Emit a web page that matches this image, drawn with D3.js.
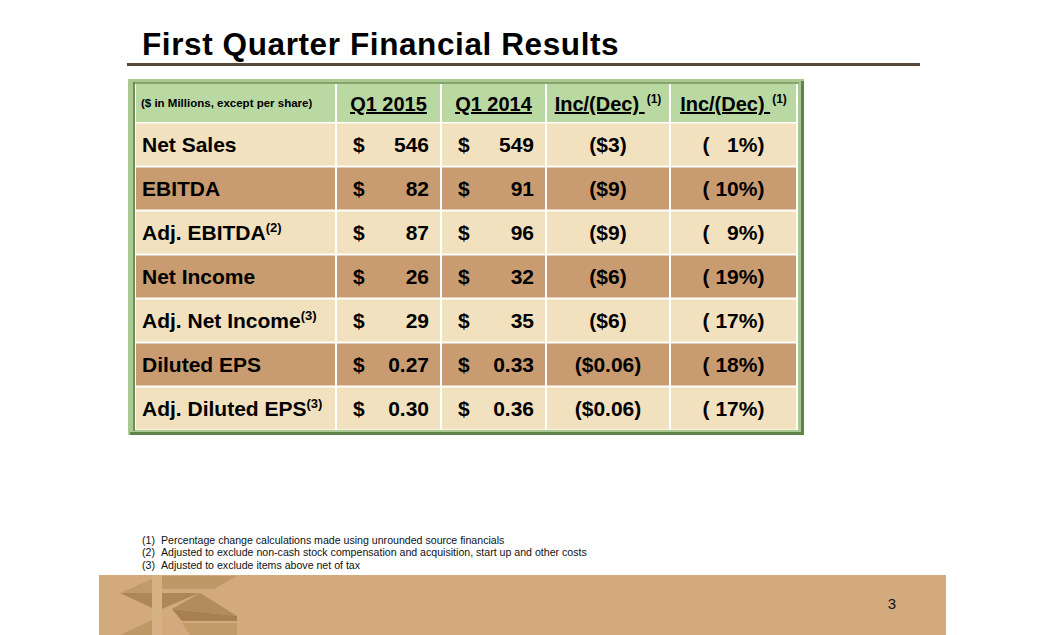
<!DOCTYPE html>
<html>
<head>
<meta charset="utf-8">
<script src="https://cdn.jsdelivr.net/npm/d3@7"></script>
<style>
  html, body { margin: 0; padding: 0; background: #ffffff; }
  svg { display: block; font-family: "Liberation Sans", Arial, sans-serif; }
  .pre { white-space: pre; }
</style>
</head>
<body>
<svg id="chart" width="1046" height="635"></svg>
<script>
// ---------- data ----------
const title = "First Quarter Financial Results";
const unitNote = "($ in Millions, except per share)";
const headers = ["Q1 2015", "Q1 2014", "Inc/(Dec) ", "Inc/(Dec) "];
const headerSups = ["", "", "(1)", "(1)"];
const labels = ["Net Sales", "EBITDA", "Adj. EBITDA", "Net Income", "Adj. Net Income", "Diluted EPS", "Adj. Diluted EPS"];
const labelSups = ["", "", "(2)", "", "(3)", "", "(3)"];
const q2015 = [546, 82, 87, 26, 29, 0.27, 0.30];
const q2014 = [549, 91, 96, 32, 35, 0.33, 0.36];
const incDec = ["($3)", "($9)", "($9)", "($6)", "($6)", "($0.06)", "($0.06)"];
const incDecPct = ["(   1%)", "( 10%)", "(   9%)", "( 19%)", "( 17%)", "( 18%)", "( 17%)"];
const footnotes = [
  ["(1)", "Percentage change calculations made using unrounded source financials"],
  ["(2)", "Adjusted to exclude non-cash stock compensation and acquisition, start up and other costs"],
  ["(3)", "Adjusted to exclude items above net of tax"]
];
const pageNumber = "3";

// ---------- layout ----------
const svg = d3.select("#chart");
const colEdges = [136, 336, 441, 546, 670, 797];
const colors = {
  header: "#bad8a2", light: "#f1e1bf", dark: "#c89c70",
  frame: "#a9c991", frameDark: "#62824c", rule: "#574a3c", band: "#d2aa7d"
};

// title
svg.append("text").attr("x", 142).attr("y", 55)
  .attr("font-size", 31.5).attr("font-weight", "bold").attr("fill", "#000")
  .attr("letter-spacing", 0.6)
  .text(title);
svg.append("rect").attr("x", 127).attr("y", 63).attr("width", 793).attr("height", 3)
  .attr("fill", colors.rule);

// table frame
svg.append("rect").attr("x", 128).attr("y", 79).attr("width", 676).attr("height", 356).attr("fill", colors.frame);
svg.append("rect").attr("x", 801).attr("y", 81).attr("width", 3).attr("height", 354).attr("fill", colors.frameDark);
svg.append("rect").attr("x", 130).attr("y", 432).attr("width", 674).attr("height", 3).attr("fill", colors.frameDark);
svg.append("rect").attr("x", 133).attr("y", 82).attr("width", 2).attr("height", 349).attr("fill", colors.frameDark).attr("opacity", 0.8);
svg.append("rect").attr("x", 133).attr("y", 82).attr("width", 666).attr("height", 2).attr("fill", colors.frameDark).attr("opacity", 0.5);
svg.append("rect").attr("x", 135).attr("y", 84).attr("width", 663).attr("height", 346).attr("fill", "#ffffff");

const y = d3.scaleBand().domain(labels).range([123.5, 429.5]).paddingInner(0.045).paddingOuter(0);
const headerTop = 84, headerBottom = 122;

// header cells
const nCols = colEdges.length - 1;
for (let c = 0; c < nCols; c++) {
  svg.append("rect")
    .attr("x", colEdges[c] + (c === 0 ? 0 : 1)).attr("y", headerTop)
    .attr("width", colEdges[c + 1] - colEdges[c] - (c === 0 ? 1 : 2)).attr("height", headerBottom - headerTop)
    .attr("fill", colors.header);
}
// body cells
labels.forEach((lab, i) => {
  for (let c = 0; c < nCols; c++) {
    svg.append("rect")
      .attr("x", colEdges[c] + (c === 0 ? 0 : 1)).attr("y", y(lab))
      .attr("width", colEdges[c + 1] - colEdges[c] - (c === 0 ? 1 : 2)).attr("height", y.bandwidth())
      .attr("fill", i % 2 === 0 ? colors.light : colors.dark);
  }
});

// header texts
svg.append("text").attr("x", 141).attr("y", 107)
  .attr("font-size", 11.5).attr("font-weight", "bold").text(unitNote);
headers.forEach((h, k) => {
  const c = k + 1;
  const cx = (colEdges[c] + colEdges[c + 1]) / 2;
  const t = svg.append("text").attr("class", "pre")
    .attr("x", cx).attr("y", 111).attr("text-anchor", "middle")
    .attr("font-size", 20).attr("font-weight", "bold");
  t.append("tspan").attr("text-decoration", "underline").text(h);
  if (headerSups[k]) {
    t.append("tspan").attr("font-size", 12).attr("dx", 2).attr("dy", -8).text(headerSups[k]);
  }
});

// body texts
const fmt = v => (v < 1 ? d3.format(".2f")(v) : d3.format("d")(v));
labels.forEach((lab, i) => {
  const base = y(lab) + y.bandwidth() / 2 + 7.5;
  const t = svg.append("text").attr("x", 142).attr("y", base)
    .attr("font-size", 21).attr("font-weight", "bold");
  t.append("tspan").text(lab);
  if (labelSups[i]) t.append("tspan").attr("font-size", 13).attr("dy", -8).text(labelSups[i]);

  [q2015, q2014].forEach((arr, k) => {
    const c = k + 1;
    svg.append("text").attr("x", colEdges[c] + 17).attr("y", base)
      .attr("font-size", 21).attr("font-weight", "bold").text("$");
    svg.append("text").attr("x", colEdges[c + 1] - 12).attr("y", base)
      .attr("text-anchor", "end").attr("font-size", 21).attr("font-weight", "bold").text(fmt(arr[i]));
  });
  svg.append("text").attr("x", (colEdges[3] + colEdges[4]) / 2).attr("y", base)
    .attr("text-anchor", "middle").attr("font-size", 21).attr("font-weight", "bold").text(incDec[i]);
  svg.append("text").attr("class", "pre").attr("x", (colEdges[4] + colEdges[5]) / 2).attr("y", base)
    .attr("text-anchor", "middle").attr("font-size", 21).attr("font-weight", "bold").text(incDecPct[i]);
});

// footnotes
footnotes.forEach((f, i) => {
  const by = 544 + i * 12.3;
  svg.append("text").attr("x", 142).attr("y", by).attr("font-size", 10.6).attr("fill", "#111").text(f[0]);
  svg.append("text").attr("x", 161).attr("y", by).attr("font-size", 10.6).attr("fill", "#111").text(f[1]);
});

// footer band + logo
svg.append("rect").attr("x", 99).attr("y", 575).attr("width", 847).attr("height", 60).attr("fill", colors.band);
const logo = [
  {pts: [[162,576],[237,576],[214,589],[162,589]], fill: "#bf9868"},
  {pts: [[120,593],[152,579],[152,593]], fill: "#c19a6b"},
  {pts: [[120,593],[152,593],[152,608]], fill: "#ae8758"},
  {pts: [[162,593],[199,593],[162,609]], fill: "#ae8758"},
  {pts: [[172,609],[200,593],[237,616]], fill: "#b28c5c"},
  {pts: [[172,609],[237,616],[237,621],[182,621]], fill: "#a68052"},
  {pts: [[120,635],[152,620],[152,635]], fill: "#bf9868"},
  {pts: [[182,623],[237,623],[237,635],[190,635]], fill: "#c29b6b"}
];
svg.selectAll("polygon.logo").data(logo).enter().append("polygon")
  .attr("class", "logo")
  .attr("points", d => d.pts.map(p => p.join(",")).join(" "))
  .attr("fill", d => d.fill);
svg.append("rect").attr("x", 152).attr("y", 575).attr("width", 10).attr("height", 60).attr("fill", "#d6b184");

svg.append("text").attr("x", 892).attr("y", 609).attr("text-anchor", "middle")
  .attr("font-size", 15).attr("fill", "#111").text(pageNumber);
</script>
</body>
</html>
